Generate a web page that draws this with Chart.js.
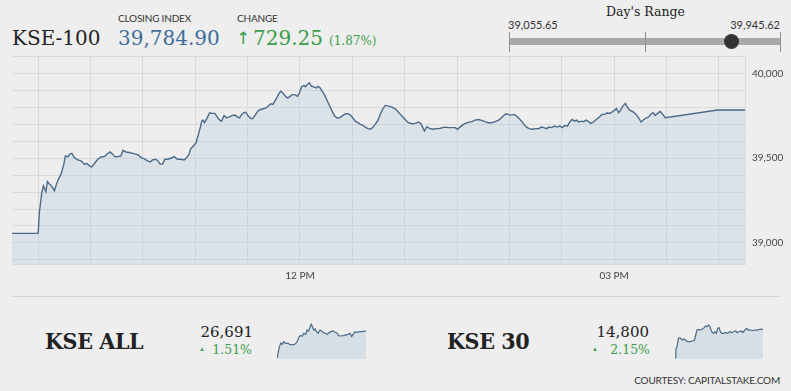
<!DOCTYPE html>
<html>
<head>
<meta charset="utf-8">
<script src="https://cdn.jsdelivr.net/npm/chart.js@4.4.1/dist/chart.umd.min.js"></script>
<style>
  html, body { margin: 0; padding: 0; background: #eeeeee; }
  #page { position: relative; width: 791px; height: 391px; overflow: hidden; font-family: Lato, 'Open Sans', sans-serif; color: #333; }
  .abs { position: absolute; white-space: nowrap; line-height: 1; }
  .serif { font-family: 'DejaVu Serif', serif; }
  .cap { font-size: 10px; color: #333; letter-spacing: -0.2px; }
  .green { color: #3a9e4b; }
  .big { font-size: 23px; font-weight: bold; color: #222; font-family: 'DejaVu Serif Condensed', 'DejaVu Serif', serif; font-stretch: condensed; letter-spacing: -0.4px; }
  #main { position: absolute; left: 12px; top: 42px; width: 779px; height: 243px; }
  .spark { position: absolute; top: 320px; height: 39px; }
</style>
</head>
<body>
<div id="page">
  <div class="abs serif" style="left:12px;top:28px;font-size:20px;color:#222;">KSE-100</div>
  <div class="abs cap" style="left:118px;top:13px;">CLOSING INDEX</div>
  <div class="abs cap" style="left:237px;top:13px;">CHANGE</div>
  <div class="abs serif" id="closeTxt" style="left:118px;top:28px;font-size:20px;color:#3f6d9b;"></div>
  <div class="abs green" style="left:236px;top:30px;font-size:17px;font-family:'DejaVu Sans',sans-serif;">&#8593;</div>
  <div class="abs serif green" id="chgTxt" style="left:253px;top:28px;font-size:20px;"></div>
  <div class="abs serif green" id="pctTxt" style="left:329px;top:35px;font-size:12px;"></div>

  <div class="abs serif" style="left:606px;top:6px;font-size:12.5px;color:#222;">Day's Range</div>
  <div class="abs" id="lowTxt" style="left:508px;top:19px;font-size:11px;color:#333;"></div>
  <div class="abs" id="highTxt" style="right:11px;top:19px;font-size:11px;color:#333;"></div>
  <div id="range"></div>

  <div id="main"><canvas id="chart"></canvas></div>

  <div class="abs" style="left:12px;top:296px;width:768px;height:1px;background:#d2d2d2;"></div>

  <div class="abs big" style="left:45px;top:329px;">KSE ALL</div>
  <div class="abs serif" style="right:538px;top:325px;font-size:15px;color:#222;">26,691</div>
  <div class="abs green" style="left:199px;top:346px;font-size:6px;">&#9650;</div>
  <div class="abs serif green" style="right:539px;top:344px;font-size:12.5px;">1.51%</div>
  <div class="spark" style="left:277px;width:89px;"><canvas id="sparkAll"></canvas></div>

  <div class="abs big" style="left:447px;top:329px;">KSE 30</div>
  <div class="abs serif" style="right:142px;top:325px;font-size:15px;color:#222;">14,800</div>
  <div class="abs green" style="left:592px;top:346px;font-size:6px;">&#9650;</div>
  <div class="abs serif green" style="right:141px;top:344px;font-size:12.5px;">2.15%</div>
  <div class="spark" style="left:675px;width:88px;"><canvas id="spark30"></canvas></div>

  <div class="abs" style="right:11px;top:375px;font-size:10px;color:#333;letter-spacing:-0.2px;">COURTESY: CAPITALSTAKE.COM</div>
</div>
<script>
// KSE-100 intraday, minutes since midnight / index value
const kseTimes = [555, 570, 570.7, 572.1, 573, 573.6, 574.4, 575.3, 576.5, 577.8, 579.3, 580.5, 581.6, 583.1, 584.7, 585.6, 587, 588.1, 589.3, 590.7,
  592.7, 594.6, 596.5, 598, 599.3, 600.7, 602.2, 604.1, 606, 607.9, 609.8, 611.3, 612.7, 614, 615.9, 617.4, 618.6, 620.3, 622.2, 624.1,
  626, 627.5, 628.9, 630.7, 632.7, 634.2, 635.5, 637.4, 638.7, 639.9, 641.3, 642.6, 644.1, 646, 647.9, 649.8, 651.7, 653.6, 655.1, 656.5,
  657.4, 659, 660.5, 661.8, 663, 663.7, 664.5, 665.3, 666.4, 667.5, 668.3, 669.8, 671.3, 672.9, 674, 675.1, 676.5, 677.8, 679.3, 681.3,
  682.7, 684.3, 685.4, 686.6, 687.9, 688.9, 690.4, 691.9, 693, 694.6, 696.1, 697.6, 699.3, 700.7, 702.2, 703.3, 704.5, 705.6, 706.7, 707.9,
  709, 710.2, 711.3, 712.7, 714, 715.5, 717, 718.6, 719.7, 720.9, 722.2, 723.1, 724.3, 725.4, 726.6, 727.9, 729.3, 730.4, 731.5, 732.7,
  734.2, 735.5, 736.9, 738.4, 739.9, 741.3, 742.6, 744.1, 746, 747.5, 748.9, 750.2, 751.7, 753.3, 754.6, 755.9, 757.4, 759, 760.3, 761.6,
  763.1, 764.7, 766, 767.5, 768.9, 770.7, 772.7, 774.6, 776.5, 778.4, 780.3, 782.2, 784.1, 786, 787.9, 789.3, 790.4, 791.3, 792.7, 794.2,
  796.1, 798, 799.9, 801.8, 803.3, 805, 807, 808.9, 810.2, 811.7, 813.6, 815.9, 818.4, 820.3, 822.2, 824.1, 826, 827.9, 829.8, 831.7,
  833.6, 835, 836.5, 838, 839.3, 840.9, 842.6, 844.1, 845.6, 847, 848.3, 849.8, 851.3, 853.3, 855.1, 857, 858.4, 859.7, 861.3, 862.7,
  864.3, 865.8, 867.3, 868.9, 870.4, 871.7, 873.3, 874.6, 875.9, 877.4, 878.6, 879.7, 881.3, 882.6, 883.9, 885.4, 886.6, 888.1, 889.8, 891.7,
  893, 894.6, 896.1, 897.4, 898.7, 900.3, 901.3, 902.6, 903.7, 905, 906.4, 907.5, 908.9, 910.7, 912.7, 914, 915.5, 917, 918.6, 919.9,
  921.3, 922.4, 923.5, 925, 926.4, 927.9, 929.4, 959.3, 975];
const kseValues = [39056, 39056, 39181, 39298, 39337, 39322, 39302, 39363, 39347, 39334, 39308, 39347, 39377, 39406, 39465, 39514, 39508, 39524, 39529, 39504,
  39490, 39484, 39465, 39469, 39455, 39449, 39469, 39494, 39508, 39510, 39528, 39537, 39524, 39508, 39510, 39514, 39547, 39537, 39534, 39529,
  39524, 39518, 39504, 39498, 39484, 39478, 39490, 39494, 39484, 39465, 39465, 39494, 39494, 39500, 39510, 39494, 39494, 39490, 39504, 39524,
  39557, 39572, 39592, 39641, 39686, 39719, 39725, 39710, 39729, 39753, 39769, 39765, 39765, 39739, 39725, 39719, 39753, 39739, 39743, 39753,
  39755, 39743, 39739, 39759, 39769, 39772, 39749, 39735, 39734, 39759, 39782, 39788, 39794, 39798, 39812, 39822, 39818, 39837, 39857, 39882,
  39896, 39886, 39871, 39857, 39863, 39876, 39876, 39866, 39886, 39922, 39931, 39922, 39935, 39946, 39925, 39922, 39916, 39925, 39916, 39896,
  39871, 39843, 39812, 39778, 39749, 39737, 39739, 39749, 39763, 39763, 39755, 39739, 39719, 39710, 39700, 39696, 39684, 39675, 39671, 39681,
  39700, 39725, 39759, 39792, 39812, 39808, 39802, 39792, 39772, 39749, 39729, 39710, 39704, 39706, 39714, 39704, 39681, 39661, 39686, 39676,
  39671, 39675, 39676, 39681, 39684, 39681, 39681, 39681, 39671, 39684, 39700, 39710, 39716, 39725, 39729, 39724, 39716, 39710, 39710, 39716,
  39724, 39735, 39749, 39763, 39759, 39755, 39759, 39749, 39734, 39719, 39700, 39684, 39675, 39671, 39675, 39676, 39684, 39681, 39675, 39684,
  39681, 39690, 39684, 39690, 39681, 39694, 39690, 39714, 39729, 39719, 39725, 39714, 39719, 39716, 39725, 39716, 39706, 39714, 39729, 39745,
  39759, 39759, 39769, 39765, 39772, 39784, 39794, 39769, 39784, 39808, 39824, 39804, 39784, 39775, 39759, 39739, 39714, 39729, 39739, 39745,
  39763, 39769, 39753, 39765, 39778, 39759, 39739, 39785, 39785];

const xGridTimes = [570, 600, 630, 660, 690, 720, 750, 780, 810, 840, 870, 900, 930, 960];
const xTickLabels = { 720: '12 PM', 900: '03 PM' };
const yGridValues = [38900, 39000, 39100, 39200, 39300, 39400, 39500, 39600, 39700, 39800, 39900, 40000, 40100];
const yLabelValues = [39000, 39500, 40000];

const closingIndex = [39784.90];
const changeValue = [729.25];
const changePct = [1.87];
const dayLow = [39055.65];
const dayHigh = [39945.62];

// sparklines
const allTimes = [570, 579, 586, 593, 599, 608, 618, 626, 637, 648, 658, 667, 673, 681, 687, 696, 702, 708, 714, 720, 725, 731, 737, 743,
  750, 758, 766, 772, 781, 790, 799, 807, 816, 825, 834, 840, 849, 860, 872, 882, 890, 897, 904, 912, 919, 931, 942, 960];
const allValues = [26294, 26439, 26512, 26497, 26536, 26512, 26512, 26497, 26488, 26497, 26536, 26609, 26623, 26618, 26657, 26642, 26705, 26691, 26739, 26788, 26754, 26705, 26720, 26681,
  26657, 26705, 26691, 26672, 26657, 26642, 26667, 26681, 26691, 26672, 26657, 26623, 26618, 26623, 26633, 26642, 26657, 26609, 26642, 26681, 26672, 26681, 26681, 26691];
const k30Times = [570, 574, 579, 585, 591, 597, 604, 611, 620, 629, 638, 647, 656, 662, 667, 673, 682, 691, 700, 706, 712, 718, 724, 730, 735, 741,
  747, 753, 759, 765, 771, 777, 786, 795, 803, 812, 821, 830, 839, 845, 854, 862, 871, 880, 889, 895, 904, 913, 921, 933, 945, 960];
const k30Values = [14489, 14590, 14608, 14699, 14706, 14692, 14681, 14692, 14670, 14663, 14663, 14670, 14681, 14735, 14789, 14797, 14789, 14800, 14815, 14833, 14826, 14844, 14833, 14789, 14764, 14753,
  14771, 14753, 14808, 14815, 14771, 14753, 14753, 14764, 14753, 14771, 14761, 14771, 14782, 14761, 14771, 14779, 14764, 14789, 14808, 14789, 14789, 14782, 14789, 14789, 14797, 14800];

const LINE = '#4b6a89';
const GRID = '#dadada';
const fmt = function (v, d) { return v.toLocaleString('en-US', { minimumFractionDigits: d, maximumFractionDigits: d }); };

document.getElementById('closeTxt').textContent = fmt(closingIndex[0], 2);
document.getElementById('chgTxt').textContent = fmt(changeValue[0], 2);
document.getElementById('pctTxt').textContent = '(' + fmt(changePct[0], 2) + '%)';
document.getElementById('lowTxt').textContent = fmt(dayLow[0], 2);
document.getElementById('highTxt').textContent = fmt(dayHigh[0], 2);

// day's range slider
(function () {
  const left = 509, right = 780, el = document.getElementById('range');
  const pos = left + (closingIndex[0] - dayLow[0]) / (dayHigh[0] - dayLow[0]) * (right - left);
  let html = '<div class="abs" style="left:' + left + 'px;top:38px;width:' + (right - left) + 'px;height:7px;background:#a9a9a9;"></div>';
  [left, (left + right) / 2, right].forEach(function (x) {
    html += '<div class="abs" style="left:' + Math.round(x) + 'px;top:32px;width:1px;height:20px;background:#8e8e8e;"></div>';
  });
  html += '<div class="abs" style="left:' + (pos - 7.5) + 'px;top:34px;width:15px;height:15px;border-radius:50%;background:#333;"></div>';
  el.innerHTML = html;
})();

new Chart(document.getElementById('chart'), {
  type: 'line',
  data: {
    datasets: [{
      data: kseTimes.map(function (t, i) { return { x: t, y: kseValues[i] }; }),
      borderColor: LINE,
      borderWidth: 1.4,
      backgroundColor: 'rgba(176, 198, 220, 0.3)',
      fill: 'start',
      pointRadius: 0,
      tension: 0
    }]
  },
  options: {
    animation: false,
    responsive: true,
    maintainAspectRatio: false,
    layout: { padding: 0 },
    plugins: { legend: { display: false }, tooltip: { enabled: false } },
    scales: {
      x: {
        type: 'linear',
        min: 555,
        max: 975,
        afterBuildTicks: function (scale) { scale.ticks = xGridTimes.map(function (v) { return { value: v }; }); },
        afterFit: function (scale) { scale.height = 21; },
        grid: { color: GRID, drawTicks: false },
        border: { color: GRID },
        ticks: {
          autoSkip: false, maxRotation: 0, padding: 6, color: '#444',
          font: { family: 'Lato', size: 10 },
          callback: function (v) { return xTickLabels[v] || ''; }
        }
      },
      y: {
        position: 'right',
        min: 38875,
        max: 40110,
        afterBuildTicks: function (scale) { scale.ticks = yGridValues.map(function (v) { return { value: v }; }); },
        afterFit: function (scale) { scale.width = 46; },
        grid: { color: GRID, drawTicks: false },
        border: { color: GRID },
        ticks: {
          autoSkip: false, padding: 7, color: '#444',
          font: { family: 'Lato', size: 10 },
          callback: function (v) { return yLabelValues.indexOf(v) >= 0 ? v.toLocaleString('en-US') : ''; }
        }
      }
    }
  }
});

function makeSpark(id, times, values, yMin, yMax) {
  new Chart(document.getElementById(id), {
    type: 'line',
    data: {
      datasets: [{
        data: times.map(function (t, i) { return { x: t, y: values[i] }; }),
        borderColor: LINE,
        borderWidth: 1.2,
        backgroundColor: 'rgba(170, 192, 214, 0.35)',
        fill: 'start',
        pointRadius: 0,
        tension: 0
      }]
    },
    options: {
      animation: false,
      responsive: true,
      maintainAspectRatio: false,
      layout: { padding: 0 },
      plugins: { legend: { display: false }, tooltip: { enabled: false } },
      scales: {
        x: { type: 'linear', display: false, min: 570, max: 960 },
        y: { display: false, min: yMin, max: yMax }
      }
    }
  });
}
makeSpark('sparkAll', allTimes, allValues, 26284, 26850);
makeSpark('spark30', k30Times, k30Values, 14475, 14898);
</script>
</body>
</html>
